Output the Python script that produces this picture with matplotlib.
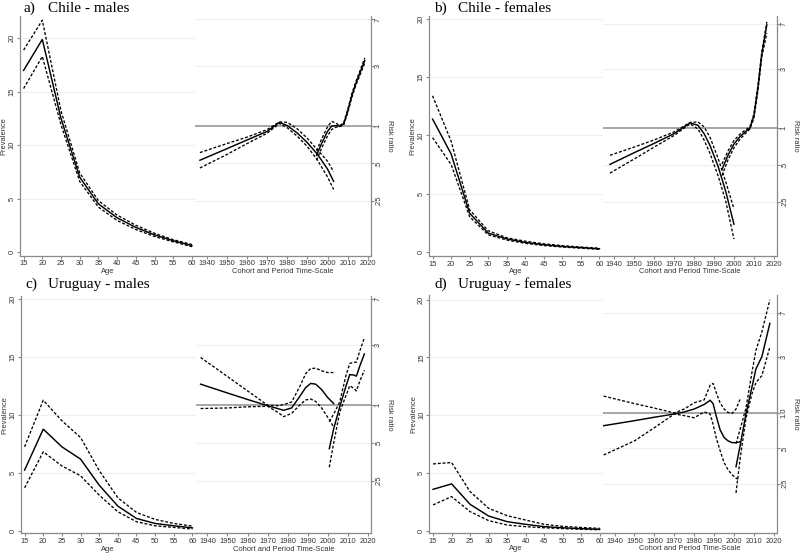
import numpy as np
import matplotlib
matplotlib.use("Agg")
import matplotlib.pyplot as plt
from matplotlib.ticker import FixedLocator, NullLocator

# ---------------- data ----------------
ages = [15, 20, 25, 30, 35, 40, 45, 50, 55, 60]

# a) Chile - males
a_age_est = [17.0, 19.9, 12.5, 7.0, 4.5, 3.2, 2.3, 1.6, 1.05, 0.6]
a_age_hi = [18.9, 21.7, 13.2, 7.4, 4.8, 3.45, 2.5, 1.75, 1.15, 0.7]
a_age_lo = [15.3, 18.3, 11.9, 6.6, 4.2, 2.95, 2.1, 1.45, 0.95, 0.5]
a_coh_years = [1936.5, 1950, 1960, 1970, 1976, 1980, 1985, 1990, 1995, 2000, 2003]
a_coh_est = [0.53, 0.656, 0.769, 0.90, 1.06, 1.0, 0.87, 0.73, 0.59, 0.45, 0.36]
a_coh_hi = [0.61, 0.72, 0.81, 0.93, 1.07, 1.06, 0.94, 0.79, 0.64, 0.52, 0.43]
a_coh_lo = [0.46, 0.59, 0.72, 0.87, 1.04, 0.96, 0.82, 0.68, 0.53, 0.39, 0.31]
a_per_years = [1994.5, 1997, 2000, 2002, 2004, 2006, 2008, 2010, 2012, 2014, 2016, 2018.5]
a_per_est = [0.58, 0.72, 0.90, 0.99, 1.0, 0.99, 1.03, 1.30, 1.72, 2.15, 2.6, 3.3]
a_per_hi = [0.63, 0.78, 0.98, 1.08, 1.05, 1.0, 1.05, 1.34, 1.78, 2.22, 2.7, 3.45]
a_per_lo = [0.53, 0.66, 0.83, 0.93, 0.97, 0.98, 1.01, 1.26, 1.66, 2.08, 2.5, 3.15]

# b) Chile - females
b_age_est = [11.4, 8.4, 3.3, 1.6, 1.1, 0.8, 0.6, 0.45, 0.35, 0.25]
b_age_hi = [13.4, 9.5, 3.6, 1.8, 1.2, 0.9, 0.68, 0.52, 0.4, 0.3]
b_age_lo = [9.8, 7.5, 3.0, 1.45, 1.0, 0.72, 0.53, 0.4, 0.3, 0.2]
b_coh_years = [1937.8, 1950, 1960, 1970, 1978, 1982, 1985, 1988, 1992, 1996, 2000]
b_coh_est = [0.506, 0.63, 0.75, 0.90, 1.10, 1.05, 0.90, 0.72, 0.49, 0.30, 0.165]
b_coh_hi = [0.60, 0.70, 0.80, 0.93, 1.11, 1.12, 1.02, 0.84, 0.57, 0.36, 0.22]
b_coh_lo = [0.43, 0.56, 0.70, 0.87, 1.08, 0.98, 0.80, 0.62, 0.41, 0.25, 0.125]
b_per_years = [1994, 1997, 2000, 2003, 2006, 2008, 2010, 2012, 2014, 2016.5]
b_per_est = [0.46, 0.60, 0.74, 0.85, 0.94, 1.0, 1.25, 2.1, 4.0, 6.9]
b_per_hi = [0.51, 0.65, 0.79, 0.89, 0.97, 1.02, 1.3, 2.2, 4.2, 7.3]
b_per_lo = [0.41, 0.55, 0.69, 0.81, 0.91, 0.98, 1.2, 2.0, 3.8, 5.9]

# c) Uruguay - males
c_age_est = [5.24, 8.78, 7.25, 6.19, 3.94, 2.13, 1.06, 0.63, 0.43, 0.25]
c_age_hi = [7.25, 11.28, 9.5, 8.06, 5.2, 2.85, 1.58, 0.98, 0.63, 0.4]
c_age_lo = [3.71, 6.82, 5.6, 4.75, 3.08, 1.64, 0.78, 0.43, 0.29, 0.15]
c_coh_years = [1936.6, 1950, 1960, 1970, 1975, 1978, 1982, 1986, 1989, 1991.5, 1994, 1997, 2000, 2003]
c_coh_est = [1.47, 1.25, 1.11, 0.99, 0.94, 0.91, 0.95, 1.17, 1.38, 1.49, 1.47, 1.33, 1.15, 1.03]
c_coh_hi = [2.40, 1.69, 1.30, 1.0, 0.99, 1.01, 1.06, 1.40, 1.78, 1.96, 1.97, 1.88, 1.82, 1.82]
c_coh_lo = [0.94, 0.95, 0.97, 0.98, 0.88, 0.81, 0.86, 1.0, 1.10, 1.12, 1.07, 0.95, 0.80, 0.67]
c_per_years = [2000.8, 2003, 2006, 2009, 2011, 2013, 2014.3, 2016, 2018.3]
c_per_est = [0.45, 0.65, 0.97, 1.40, 1.75, 1.74, 1.70, 2.05, 2.56]
c_per_hi = [0.74, 0.85, 1.06, 1.70, 2.15, 2.2, 2.2, 2.7, 3.45]
c_per_lo = [0.32, 0.50, 0.88, 1.18, 1.43, 1.36, 1.30, 1.55, 1.90]

# d) Uruguay - females
d_age_est = [3.58, 4.05, 2.28, 1.27, 0.78, 0.55, 0.35, 0.25, 0.18, 0.12]
d_age_hi = [5.78, 5.9, 3.38, 1.94, 1.3, 0.92, 0.55, 0.38, 0.28, 0.2]
d_age_lo = [2.23, 2.95, 1.65, 0.87, 0.49, 0.35, 0.25, 0.18, 0.12, 0.08]
d_coh_years = [1934.5, 1950, 1960, 1970, 1975, 1980, 1985, 1988, 1989.5, 1991, 1993, 1995, 1997, 1999, 2001, 2003]
d_coh_est = [0.78, 0.86, 0.92, 0.98, 1.02, 1.08, 1.18, 1.28, 1.20, 0.95, 0.72, 0.62, 0.58, 0.56, 0.56, 0.57]
d_coh_hi = [1.39, 1.20, 1.10, 1.00, 1.08, 1.22, 1.29, 1.72, 1.78, 1.50, 1.22, 1.08, 1.01, 0.99, 1.08, 1.30]
d_coh_lo = [0.44, 0.58, 0.75, 0.98, 0.95, 0.91, 1.02, 0.98, 0.80, 0.62, 0.48, 0.38, 0.33, 0.30, 0.28, 0.27]
d_per_years = [2001, 2003, 2006, 2009, 2011, 2014, 2018]
d_per_est = [0.35, 0.52, 0.98, 1.65, 2.36, 3.0, 5.75]
d_per_hi = [0.55, 0.72, 1.10, 2.2, 3.39, 4.87, 9.1]
d_per_lo = [0.21, 0.40, 0.90, 1.45, 1.81, 2.07, 3.62]

titles_letter = ["a)", "b)", "c)", "d)"]
titles_text = ["Chile - males", "Chile - females", "Uruguay - males", "Uruguay - females"]

age_ticks = [15, 20, 25, 30, 35, 40, 45, 50, 55, 60]
prev_ticks = [0, 5, 10, 15, 20]
year_ticks = [1940, 1950, 1960, 1970, 1980, 1990, 2000, 2010, 2020]
rr_ticks = [0.25, 0.5, 1, 3, 7]
rr_labels_std = [".25", ".5", "1", "3", "7"]
rr_labels_d = [".25", ".5", "1.0", "3", "7"]

# --------------- layout (pixels) ---------------
W, H = 800, 555
panels = [
    dict(L=19.5, R=371, T=16, Bt=255.5, py=(-0.33, 22.09), ry=(0.0925, 7.45), tx=24, ty=11.5,
         age=(a_age_est, a_age_lo, a_age_hi),
         coh=(a_coh_years, a_coh_est, a_coh_lo, a_coh_hi),
         per=(a_per_years, a_per_est, a_per_lo, a_per_hi), rl=rr_labels_std),
    dict(L=428.5, R=777, T=16, Bt=256, py=(-0.37, 20.26), ry=(0.091, 8.14), tx=434, ty=11.5,
         age=(b_age_est, b_age_lo, b_age_hi),
         coh=(b_coh_years, b_coh_est, b_coh_lo, b_coh_hi),
         per=(b_per_years, b_per_est, b_per_lo, b_per_hi), rl=rr_labels_std),
    dict(L=20.5, R=371, T=296, Bt=533.3, py=(-0.22, 20.28), ry=(0.0951, 7.42), tx=25, ty=288,
         age=(c_age_est, c_age_lo, c_age_hi),
         coh=(c_coh_years, c_coh_est, c_coh_lo, c_coh_hi),
         per=(c_per_years, c_per_est, c_per_lo, c_per_hi), rl=rr_labels_std),
    dict(L=429, R=777, T=295, Bt=533, py=(-0.2, 20.4), ry=(0.096, 10.0), tx=434.3, ty=288,
         age=(d_age_est, d_age_lo, d_age_hi),
         coh=(d_coh_years, d_coh_est, d_coh_lo, d_coh_hi),
         per=(d_per_years, d_per_est, d_per_lo, d_per_hi), rl=rr_labels_d),
]

AGE_LIM = (13.9, 60.9)
YEAR_LIM = (1934.2, 2021.6)
AXC = "#8a8a8a"
GRIDC = "#efefef"
TXT = "#333333"
FS = 5.4
SOLID = dict(color="black", lw=1.05, solid_joinstyle="miter")
DASH = dict(color="black", lw=0.95, linestyle=(0, (2.2, 1.4)))

plt.rcParams["font.family"] = ["Liberation Sans", "DejaVu Sans"]

fig = plt.figure(figsize=(W / 100, H / 100), dpi=100)


def rect(x0, x1, y0, y1):
    return [x0 / W, 1 - y1 / H, (x1 - x0) / W, (y1 - y0) / H]


for i, p in enumerate(panels):
    L, R, T, Bt = p["L"], p["R"], p["T"], p["Bt"]
    wa = (AGE_LIM[1] - AGE_LIM[0]) * 3.74
    wy = (YEAR_LIM[1] - YEAR_LIM[0]) * 2.01
    M = L + (R - L) * wa / (wa + wy)

    # ---------- age part ----------
    ax1 = fig.add_axes(rect(L, M, T, Bt))
    ax1.set_xlim(*AGE_LIM)
    ax1.set_ylim(*p["py"])
    est, lo, hi = p["age"]
    for v in prev_ticks[1:]:
        ax1.axhline(v, color=GRIDC, lw=0.8, zorder=0)
    ax1.plot(ages, hi, **DASH)
    ax1.plot(ages, lo, **DASH)
    ax1.plot(ages, est, **SOLID)
    for s in ["top", "right"]:
        ax1.spines[s].set_visible(False)
    for s in ["left", "bottom"]:
        ax1.spines[s].set_color(AXC)
        ax1.spines[s].set_linewidth(0.9)
    ax1.set_xticks(age_ticks)
    ax1.set_yticks(prev_ticks)
    ax1.set_yticklabels([str(v) for v in prev_ticks], rotation=90, va="center")
    ax1.tick_params(axis="both", colors=AXC, labelcolor=TXT, labelsize=FS, length=2.2, width=0.8, pad=1.2)
    ax1.tick_params(axis="y", pad=0.6)
    ax1.set_xlabel("Age", fontsize=FS, color=TXT, labelpad=0.5)
    ax1.patch.set_alpha(0)
    fig.text((L - 15.5) / W, 1 - (T + Bt) / 2 / H, "Prevalence", fontsize=FS, color=TXT,
             rotation=90, ha="center", va="center")

    # ---------- cohort / period part ----------
    ax2 = fig.add_axes(rect(M, R, T, Bt))
    ax2.set_yscale("log")
    ax2.set_xlim(*YEAR_LIM)
    ax2.set_ylim(*p["ry"])
    for v in rr_ticks:
        if v != 1:
            ax2.axhline(v, color=GRIDC, lw=0.8, zorder=0)
    ax2.axhline(1, color="#a6a6a6", lw=1.4, zorder=1)
    cy, ce, cl, ch = p["coh"]
    py_, pe, pl, ph = p["per"]
    ax2.plot(cy, ch, **DASH)
    ax2.plot(cy, cl, **DASH)
    ax2.plot(cy, ce, **SOLID)
    ax2.plot(py_, ph, **DASH)
    ax2.plot(py_, pl, **DASH)
    ax2.plot(py_, pe, **SOLID)
    for s in ["top", "left"]:
        ax2.spines[s].set_visible(False)
    for s in ["right", "bottom"]:
        ax2.spines[s].set_color(AXC)
        ax2.spines[s].set_linewidth(0.9)
    ax2.yaxis.tick_right()
    ax2.yaxis.set_major_locator(FixedLocator(rr_ticks))
    ax2.yaxis.set_minor_locator(NullLocator())
    ax2.set_yticklabels(p["rl"], rotation=90, va="center")
    ax2.set_xticks(year_ticks)
    ax2.tick_params(axis="both", colors=AXC, labelcolor=TXT, labelsize=FS, length=2.2, width=0.8, pad=1.2)
    ax2.tick_params(axis="y", pad=0.6)
    ax2.set_xlabel("Cohort and Period Time-Scale", fontsize=FS, color=TXT, labelpad=0.5)
    ax2.patch.set_alpha(0)
    fig.text((R + 18) / W, 1 - (T + Bt) / 2 / H, "Risk ratio", fontsize=FS, color=TXT,
             rotation=270, ha="center", va="center")

    # ---------- title ----------
    fig.text(p["tx"] / W, 1 - p["ty"] / H, titles_letter[i], fontsize=11,
             family=["Liberation Serif", "DejaVu Serif"], va="baseline", ha="left")
    fig.text((p["tx"] + 23.5) / W, 1 - p["ty"] / H, titles_text[i], fontsize=11,
             family=["Liberation Serif", "DejaVu Serif"], va="baseline", ha="left")

fig.savefig("out.png", dpi=100)
